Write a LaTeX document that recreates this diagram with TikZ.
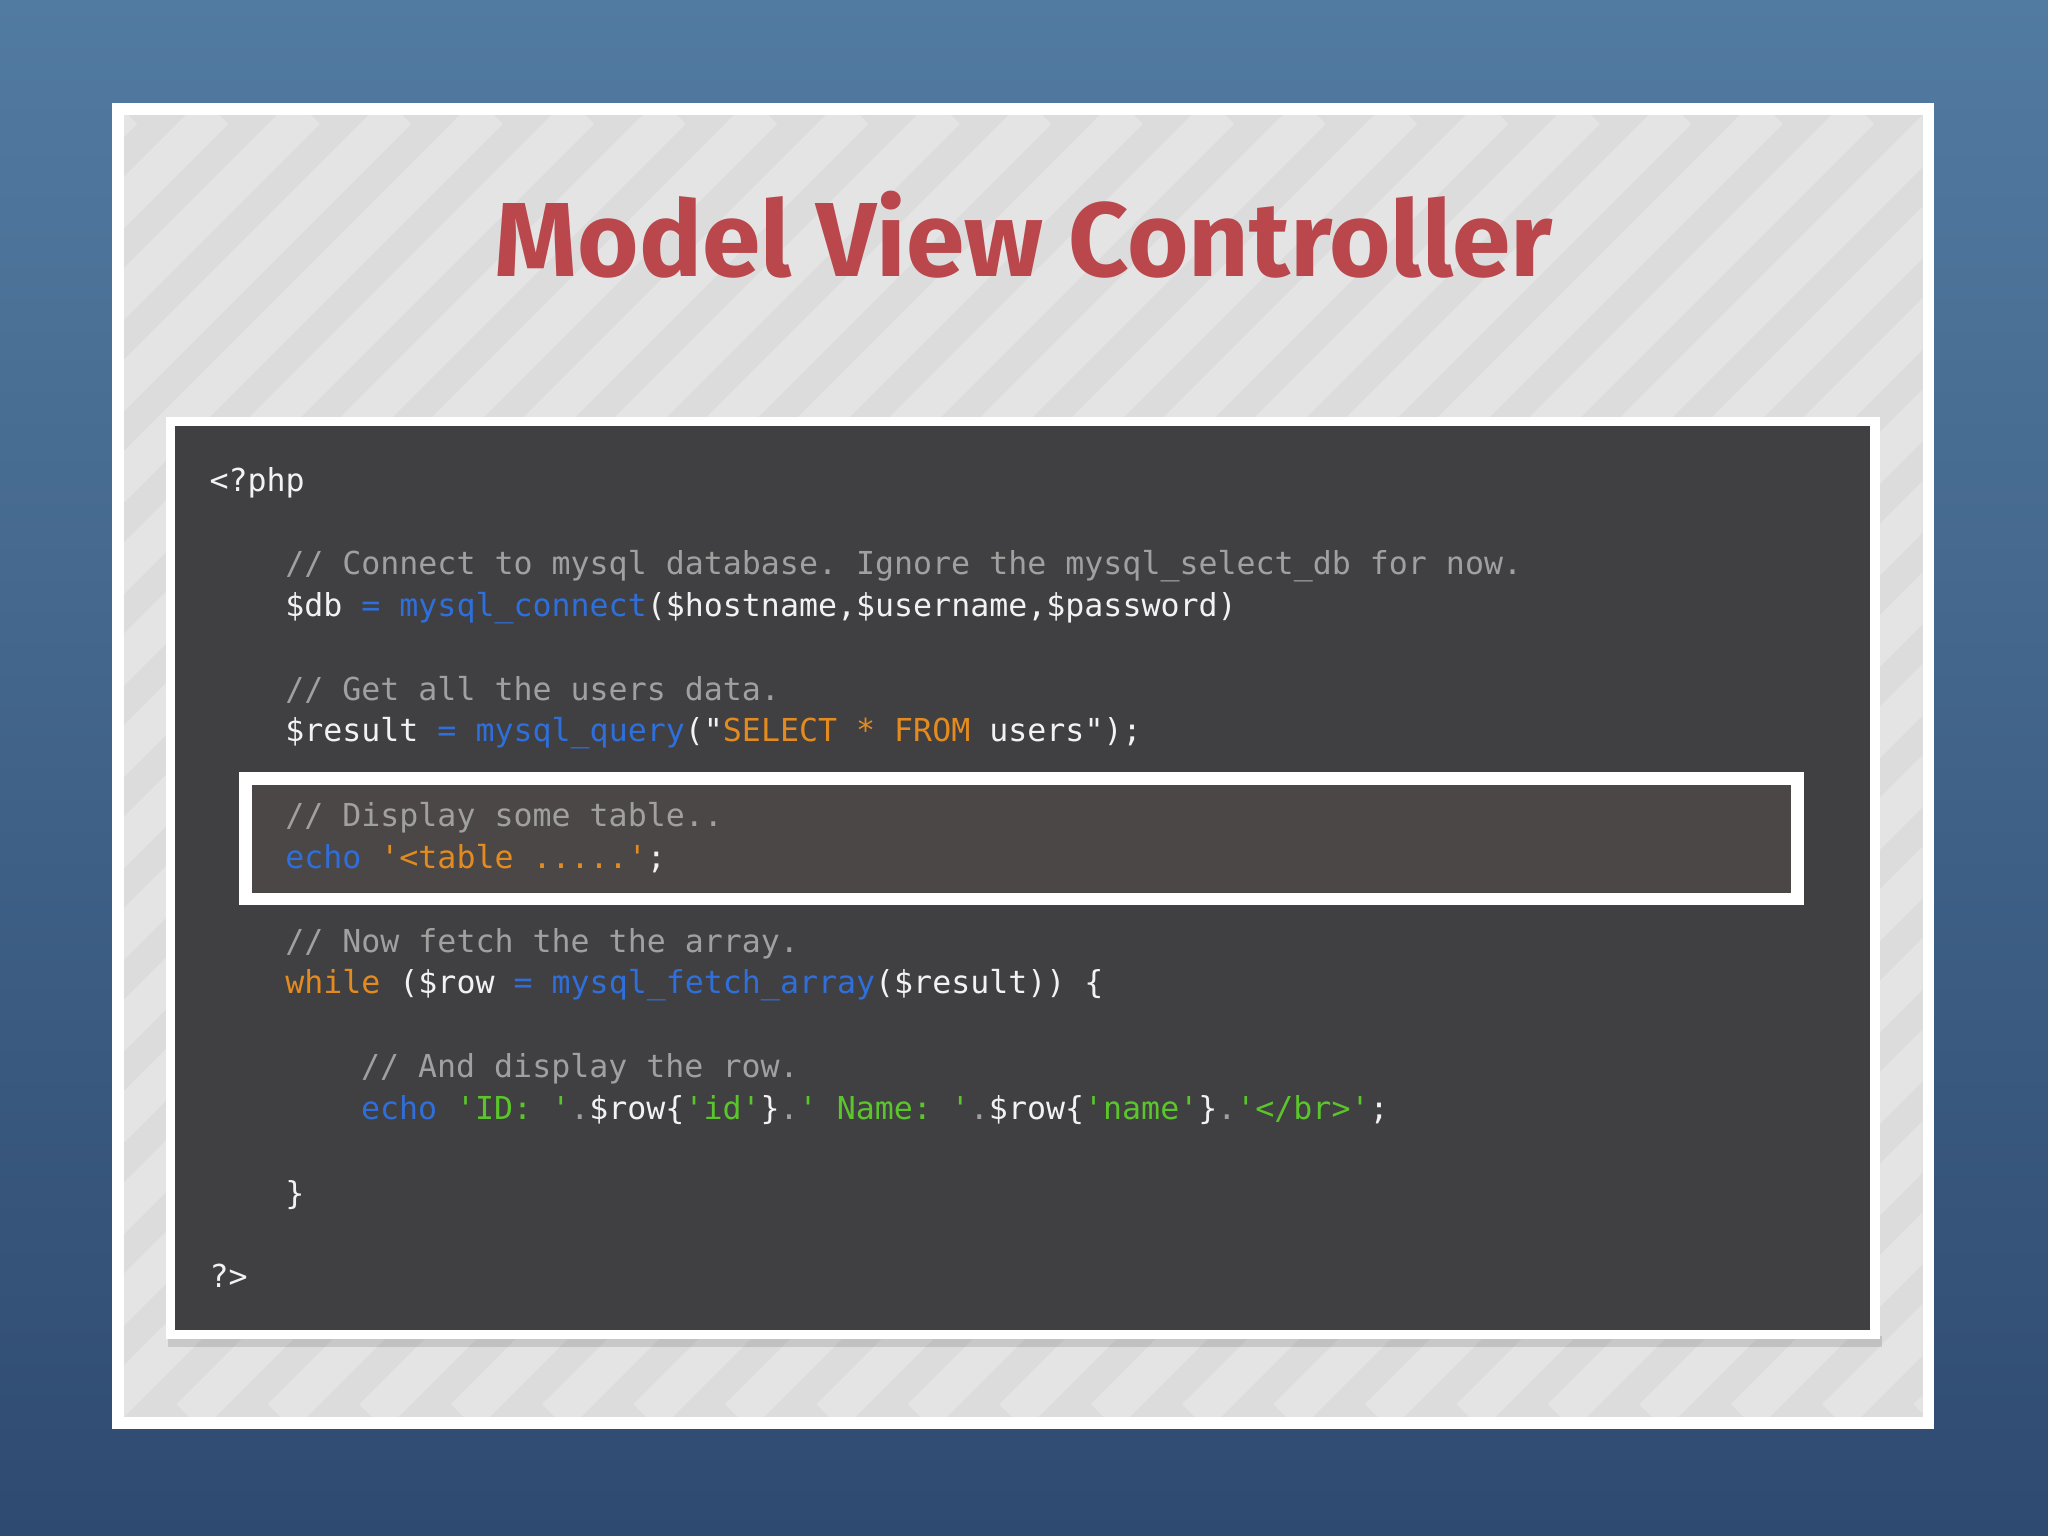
\documentclass[tikz,border=0pt]{standalone}
\usepackage{fontspec}
\setmainfont{Fira Sans}
\setmonofont{DejaVu Sans Mono}
\definecolor{bgtop}{HTML}{527BA1}
\definecolor{bgbot}{HTML}{2F4A70}
\definecolor{panel}{HTML}{DCDCDC}
\definecolor{codebg}{HTML}{403F41}
\definecolor{hibg}{HTML}{4B4746}
\definecolor{titlered}{HTML}{B9474B}
\definecolor{cmt}{HTML}{A0A0A0}
\definecolor{txt}{HTML}{F2F2F2}
\definecolor{fn}{HTML}{2F6FDB}
\definecolor{str}{HTML}{E38B1F}
\definecolor{grn}{HTML}{5BC62B}
\newcommand{\Cm}[1]{\textcolor{cmt}{#1}}
\newcommand{\Fn}[1]{\textcolor{fn}{#1}}
\newcommand{\St}[1]{\textcolor{str}{#1}}
\newcommand{\Gr}[1]{\textcolor{grn}{#1}}
\begin{document}
\begin{tikzpicture}[x=0.5pt,y=-0.5pt,
  code/.style={anchor=base west,inner sep=0,font=\ttfamily\fontsize{12.1pt}{14pt}\selectfont,text=txt}]
\useasboundingbox (0,0) rectangle (1568,1176);
\shade[top color=bgtop,bottom color=bgbot] (0,0) rectangle (1568,1176);
\fill[white] (86,79) rectangle (1481,1094);
\fill[panel] (95,88) rectangle (1472,1085);
\begin{scope}
\clip (95,88) rectangle (1472,1085);
\foreach \i in {0,...,40}{
  \draw[white,opacity=0.25,line width=14pt] (95+\i*70-1000,1085) -- (95+\i*70,85);
}
\end{scope}
\node[font=\bfseries,text=titlered,inner sep=0] (title) at (784,180) {\resizebox{405pt}{!}{Model View Controller}};
\fill[black,opacity=0.12] (129,1023) rectangle (1441,1031);
\fill[white] (127,319) rectangle (1439,1025);
\fill[codebg] (134,326) rectangle (1432,1018);
\fill[white] (183,591) rectangle (1381,693);
\fill[hibg] (193,601) rectangle (1371,684);
\node[code] (l1) at (160,376) {<?php};
\node[code] (l2) at (218,440) {\Cm{// Connect to mysql database. Ignore the mysql\_select\_db for now.}};
\node[code] (l3) at (218,472) {\$db \Fn{= mysql\_connect}(\$hostname,\$username,\$password)};
\node[code] (l4) at (218,536) {\Cm{// Get all the users data.}};
\node[code] (l5) at (218,568) {\$result \Fn{= mysql\_query}("\St{SELECT * FROM} users");};
\node[code] (l6) at (218,633) {\Cm{// Display some table..}};
\node[code] (l7) at (218,665) {\Fn{echo} \St{'<table .....'};};
\node[code] (l8) at (218,729) {\Cm{// Now fetch the the array.}};
\node[code] (l9) at (218,761) {\St{while} (\$row \Fn{= mysql\_fetch\_array}(\$result)) \{};
\node[code] (l10) at (276,825) {\Cm{// And display the row.}};
\node[code] (l11) at (276,857) {\Fn{echo} \Gr{'ID: '}\Cm{.}\$row\{\Gr{'id'}\}\Cm{.}\Gr{' Name: '}\Cm{.}\$row\{\Gr{'name'}\}\Cm{.}\Gr{'</br>'};};
\node[code] (l12) at (218,922) {\}};
\node[code] (l13) at (160,986) {?>};
\end{tikzpicture}
\end{document}
